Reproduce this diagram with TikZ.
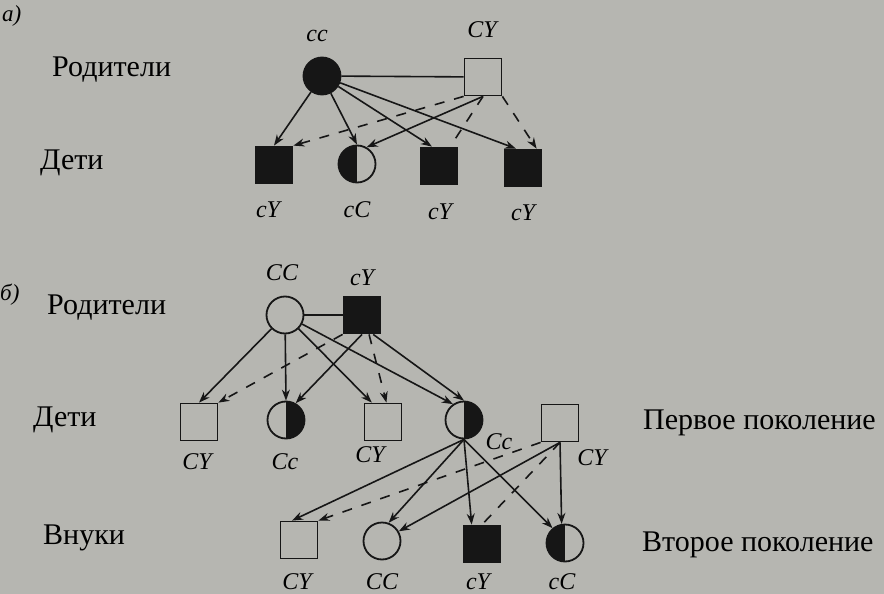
\documentclass[tikz,border=0pt]{standalone}
\usepackage{fontspec}
\setmainfont{Liberation Serif}
\usetikzlibrary{arrows.meta}
\definecolor{paper}{RGB}{182,182,177}
\definecolor{ink}{RGB}{22,22,22}
\tikzset{
	fem/.style={circle,draw=ink,line width=1.8pt,minimum size=37pt,inner sep=0pt},
	mal/.style={rectangle,draw=ink,line width=1.8pt,minimum size=37pt,inner sep=0pt},
	sick/.style={fill=ink},
	% half filled: carL left half, carR right half
	carL/.style={path picture={\fill[ink] (path picture bounding box.north) rectangle (path picture bounding box.south west);}},
	carR/.style={path picture={\fill[ink] (path picture bounding box.north) rectangle (path picture bounding box.south east);}},
	geno/.style={inner sep=0pt,font=\fontsize{24}{26}\selectfont\itshape},
	row/.style={inner sep=0pt,anchor=west,font=\fontsize{30}{32}\selectfont},
	xline/.style={draw=ink,line width=1.6pt,-{Stealth[length=11pt,width=8pt]}},
	yline/.style={xline,dash pattern=on 10pt off 10pt},
	ydash/.style={draw=ink,line width=1.6pt,dash pattern=on 10pt off 10pt,shorten >=3pt},
}
\begin{document}
\begin{tikzpicture}[x=1pt,y=-1pt]
	\fill[paper] (0,0) rectangle (884,594);
	\useasboundingbox (0,0) rectangle (884,594);
	% a)
	\node[row,font=\fontsize{23}{25}\selectfont\itshape] (ta) at (2,16) {а)};
	\node[row] (par1) at (52,70) {Родители};
	\node[row] (kid1) at (40,163) {Дети};
	\node[fem,sick] (ma) at (322,76) {};
	\node[mal] (pa) at (483,77) {};
	\node[mal,sick] (a1) at (274,165) {};
	\node[fem,carL] (a2) at (357,164) {};
	\node[mal,sick] (a3) at (439,166) {};
	\node[mal,sick] (a4) at (523,168) {};
	\node[geno] (gma) at (317,36) {cc};
	\node[geno] (gpa) at (482,30) {CY};
	\node[geno] (ga1) at (268,210) {cY};
	\node[geno] (ga2) at (357,210) {cC};
	\node[geno] (ga3) at (440,212) {cY};
	\node[geno] (ga4) at (523,213) {cY};
	\draw[ink,line width=1.6pt] (ma) -- (pa);
	\draw[xline] (ma) -- (a1.north);
	\draw[xline] (ma) -- (a2.north);
	\draw[xline] (ma) -- (a3.110);
	\draw[xline] (ma) -- (a4.110);
	\draw[yline] (pa.south west) -- (a1.north east);
	\draw[xline] (pa.south) -- (a2.60);
	\draw[ydash] (pa.south) -- (a3.60);
	\draw[yline] (pa.south east) -- (a4.55);
	% b)
	\node[row,font=\fontsize{23}{25}\selectfont\itshape] (tb) at (0,295) {б)};
	\node[row] (par2) at (47,308) {Родители};
	\node[row] (kid2) at (33,420) {Дети};
	\node[row] (grand) at (43,538) {Внуки};
	\node[row] (gen1) at (643,423) {Первое поколение};
	\node[row] (gen2) at (642,545) {Второе поколение};
	\node[fem] (mb) at (285,315) {};
	\node[mal,sick] (pb) at (362,315) {};
	\node[mal] (b1) at (199,422) {};
	\node[fem,carR] (b2) at (286,420) {};
	\node[mal] (b3) at (383,422) {};
	\node[fem,carR] (b4) at (464,420) {};
	\node[mal] (b5) at (560,423) {};
	\node[mal] (c1) at (299,540) {};
	\node[fem] (c2) at (382,541) {};
	\node[mal,sick] (c3) at (482,544) {};
	\node[fem,carL] (c4) at (565,543) {};
	\node[geno] (gmb) at (282,273) {CC};
	\node[geno] (gpb) at (362,278) {cY};
	\node[geno] (gb1) at (197,462) {CY};
	\node[geno] (gb2) at (285,462) {Cc};
	\node[geno] (gb3) at (370,455) {CY};
	\node[geno] (gb4) at (499,442) {Cc};
	\node[geno] (gb5) at (592,458) {CY};
	\node[geno] (gc1) at (297,582) {CY};
	\node[geno] (gc2) at (382,582) {CC};
	\node[geno] (gc3) at (478,582) {cY};
	\node[geno] (gc4) at (562,582) {cC};
	\draw[ink,line width=1.6pt] (mb) -- (pb);
	\draw[xline] (mb) -- (b1.north);
	\draw[xline] (mb) -- (b2.north);
	\draw[xline] (mb) -- (b3.120);
	\draw[xline] (mb) -- (b4.125);
	\draw[yline] (pb.south west) -- (b1.north east);
	\draw[xline] (pb.south) -- (b2.60);
	\draw[yline] (pb.290) -- (b3.80);
	\draw[xline] (pb.300) -- (b4.north);
	\draw[xline] (b4.south) -- (c1.110);
	\draw[xline] (b4.south) -- (c2.70);
	\draw[xline] (b4.south) -- (c3.118);
	\draw[xline] (b4.south) -- (c4.130);
	\draw[yline] (b5.south west) -- (c1.north east);
	\draw[xline] (b5.south) -- (c2.30);
	\draw[ydash] (b5.south) -- (c3.north);
	\draw[xline] (b5.south) -- (c4.100);
\end{tikzpicture}
\end{document}
